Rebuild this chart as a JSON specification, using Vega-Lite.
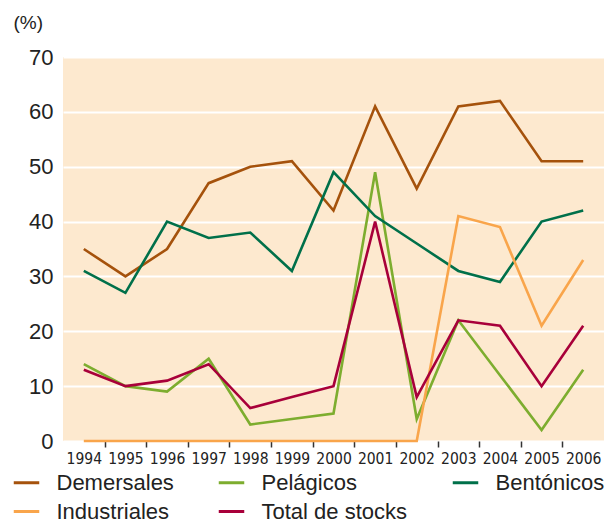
{
  "$schema": "https://vega.github.io/schema/vega-lite/v6.json",
  "width": 541,
  "height": 384,
  "autosize": "none",
  "padding": {"left": 63, "top": 57, "right": 2, "bottom": 83},
  "background": "white",
  "config": {
    "view": {"stroke": null, "fill": "#FDE9CF"},
    "font": "Liberation Sans"
  },
  "data": {
    "values": [
      {"year": 1994, "series": "Demersales", "value": 35},
      {"year": 1995, "series": "Demersales", "value": 30},
      {"year": 1996, "series": "Demersales", "value": 35},
      {"year": 1997, "series": "Demersales", "value": 47},
      {"year": 1998, "series": "Demersales", "value": 50},
      {"year": 1999, "series": "Demersales", "value": 51},
      {"year": 2000, "series": "Demersales", "value": 42},
      {"year": 2001, "series": "Demersales", "value": 61},
      {"year": 2002, "series": "Demersales", "value": 46},
      {"year": 2003, "series": "Demersales", "value": 61},
      {"year": 2004, "series": "Demersales", "value": 62},
      {"year": 2005, "series": "Demersales", "value": 51},
      {"year": 2006, "series": "Demersales", "value": 51},
      {"year": 1994, "series": "Pelágicos", "value": 14},
      {"year": 1995, "series": "Pelágicos", "value": 10},
      {"year": 1996, "series": "Pelágicos", "value": 9},
      {"year": 1997, "series": "Pelágicos", "value": 15},
      {"year": 1998, "series": "Pelágicos", "value": 3},
      {"year": 1999, "series": "Pelágicos", "value": 4},
      {"year": 2000, "series": "Pelágicos", "value": 5},
      {"year": 2001, "series": "Pelágicos", "value": 49},
      {"year": 2002, "series": "Pelágicos", "value": 4},
      {"year": 2003, "series": "Pelágicos", "value": 22},
      {"year": 2004, "series": "Pelágicos", "value": 12},
      {"year": 2005, "series": "Pelágicos", "value": 2},
      {"year": 2006, "series": "Pelágicos", "value": 13},
      {"year": 1994, "series": "Bentónicos", "value": 31},
      {"year": 1995, "series": "Bentónicos", "value": 27},
      {"year": 1996, "series": "Bentónicos", "value": 40},
      {"year": 1997, "series": "Bentónicos", "value": 37},
      {"year": 1998, "series": "Bentónicos", "value": 38},
      {"year": 1999, "series": "Bentónicos", "value": 31},
      {"year": 2000, "series": "Bentónicos", "value": 49},
      {"year": 2001, "series": "Bentónicos", "value": 41},
      {"year": 2002, "series": "Bentónicos", "value": 36},
      {"year": 2003, "series": "Bentónicos", "value": 31},
      {"year": 2004, "series": "Bentónicos", "value": 29},
      {"year": 2005, "series": "Bentónicos", "value": 40},
      {"year": 2006, "series": "Bentónicos", "value": 42},
      {"year": 1994, "series": "Industriales", "value": 0},
      {"year": 1995, "series": "Industriales", "value": 0},
      {"year": 1996, "series": "Industriales", "value": 0},
      {"year": 1997, "series": "Industriales", "value": 0},
      {"year": 1998, "series": "Industriales", "value": 0},
      {"year": 1999, "series": "Industriales", "value": 0},
      {"year": 2000, "series": "Industriales", "value": 0},
      {"year": 2001, "series": "Industriales", "value": 0},
      {"year": 2002, "series": "Industriales", "value": 0},
      {"year": 2003, "series": "Industriales", "value": 41},
      {"year": 2004, "series": "Industriales", "value": 39},
      {"year": 2005, "series": "Industriales", "value": 21},
      {"year": 2006, "series": "Industriales", "value": 33},
      {"year": 1994, "series": "Total de stocks", "value": 13},
      {"year": 1995, "series": "Total de stocks", "value": 10},
      {"year": 1996, "series": "Total de stocks", "value": 11},
      {"year": 1997, "series": "Total de stocks", "value": 14},
      {"year": 1998, "series": "Total de stocks", "value": 6},
      {"year": 1999, "series": "Total de stocks", "value": 8},
      {"year": 2000, "series": "Total de stocks", "value": 10},
      {"year": 2001, "series": "Total de stocks", "value": 40},
      {"year": 2002, "series": "Total de stocks", "value": 8},
      {"year": 2003, "series": "Total de stocks", "value": 22},
      {"year": 2004, "series": "Total de stocks", "value": 21},
      {"year": 2005, "series": "Total de stocks", "value": 10},
      {"year": 2006, "series": "Total de stocks", "value": 21}
    ]
  },
  "mark": {"type": "line", "strokeWidth": 2.6, "clip": false},
  "encoding": {
    "x": {
      "field": "year",
      "type": "ordinal",
      "scale": {"type": "band", "paddingInner": 0, "paddingOuter": 0},
      "axis": {
        "title": null,
        "domain": false,
        "labelAngle": 0,
        "labelFont": "DejaVu Sans Condensed, Liberation Sans",
        "labelFontSize": 15.5,
        "labelColor": "#222222",
        "labelPadding": 4,
        "tickBand": "extent",
        "tickSize": 6,
        "tickWidth": 1.5,
        "tickColor": "#333333",
        "tickOpacity": {"condition": {"test": "datum.extra || datum.value == 2006", "value": 0}, "value": 1}
      }
    },
    "y": {
      "field": "value",
      "type": "quantitative",
      "scale": {"domain": [0, 70], "nice": false},
      "axis": {
        "title": "(%)",
        "titleAngle": 0,
        "titleX": -50,
        "titleY": -28.5,
        "titleAlign": "left",
        "titleBaseline": "alphabetic",
        "titleFontSize": 19,
        "titleFontWeight": "normal",
        "titleColor": "#222222",
        "values": [0, 10, 20, 30, 40, 50, 60, 70],
        "domain": false,
        "ticks": false,
        "labelFontSize": 22,
        "labelColor": "#222222",
        "labelPadding": 10,
        "grid": true,
        "gridColor": "white",
        "gridWidth": 2.2
      }
    },
    "color": {
      "field": "series",
      "type": "nominal",
      "sort": ["Demersales", "Pelágicos", "Bentónicos", "Industriales", "Total de stocks"],
      "scale": {
        "domain": ["Demersales", "Pelágicos", "Bentónicos", "Industriales", "Total de stocks"],
        "range": ["#A5520C", "#7DAD2F", "#00704A", "#F9A54B", "#A8003A"]
      },
      "legend": {
        "title": null,
        "orient": "none",
        "legendX": -51,
        "legendY": 411,
        "direction": "horizontal",
        "columns": 3,
        "gridAlign": "each",
        "columnPadding": 38,
        "rowPadding": 3,
        "padding": 0,
        "symbolType": "stroke",
        "symbolSize": 650,
        "symbolStrokeWidth": 3,
        "labelFontSize": 22,
        "labelColor": "#222222",
        "labelOffset": 15.5,
        "labelLimit": 300
      }
    },
    "order": {"field": "series"}
  }
}
